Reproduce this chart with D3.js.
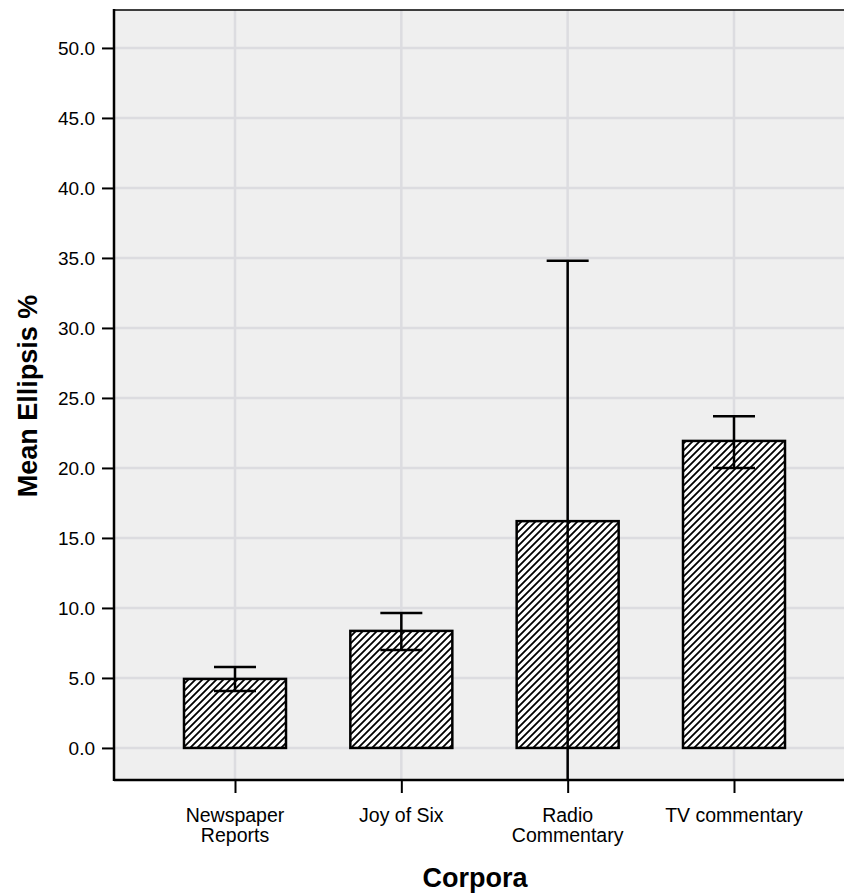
<!DOCTYPE html>
<html><head><meta charset="utf-8">
<script src="https://cdn.jsdelivr.net/npm/d3@7"></script>
<style>body{margin:0;background:#fff;} text{font-family:"Liberation Sans",Arial,sans-serif;}</style>
</head><body>
<svg id="chart" width="844" height="893"></svg>
<script>
const categories = [["Newspaper","Reports"],["Joy of Six"],["Radio","Commentary"],["TV commentary"]];
const means = [4.93, 8.36, 16.2, 21.93];
const errHigh = [5.79, 9.64, 34.8, 23.7];
const errLow = [4.07, 7.0, -2.4, 20.0];
const yTicks = [0,5,10,15,20,25,30,35,40,45,50];

const svg = d3.select("#chart");
const L = 114, R = 844, T = 10, B = 780;
const keys = categories.map(c => c.join(" "));
const x = d3.scalePoint().domain(keys).range([235, 734]);
const y = d3.scaleLinear().domain([-2.29, 52.71]).range([B, T]);
const barW = 102;

const defs = svg.append("defs");
const P = 7;
const pat = defs.append("pattern").attr("id","hatch").attr("patternUnits","userSpaceOnUse")
  .attr("width",P).attr("height",P);
pat.append("rect").attr("width",P).attr("height",P).attr("fill","#fff");
pat.append("path").attr("d",`M0,${P} L${P},0 M-1,1 L1,-1 M${P-1},${P+1} L${P+1},${P-1}`)
  .attr("stroke","#000").attr("stroke-width",1.8);
defs.append("clipPath").attr("id","clip").append("rect").attr("x",L).attr("y",T).attr("width",R-L).attr("height",B-T);

svg.append("rect").attr("x",L).attr("y",T).attr("width",R-L).attr("height",B-T).attr("fill","#efefef");

// grid
svg.append("g").selectAll("line.h").data(yTicks).join("line")
  .attr("x1",L).attr("x2",R).attr("y1",d=>y(d)).attr("y2",d=>y(d))
  .attr("stroke","#dcdce0").attr("stroke-width",2.5);
svg.append("g").selectAll("line.v").data(keys).join("line")
  .attr("x1",d=>x(d)).attr("x2",d=>x(d)).attr("y1",T).attr("y2",B)
  .attr("stroke","#dcdce0").attr("stroke-width",2.5);

// bars
svg.append("g").selectAll("rect").data(means).join("rect")
  .attr("x",(d,i)=>x(keys[i])-barW/2).attr("width",barW)
  .attr("y",d=>y(d)).attr("height",d=>y(0)-y(d))
  .attr("fill","url(#hatch)").attr("stroke","#000").attr("stroke-width",2.5);

// error bars
const eg = svg.append("g").attr("clip-path","url(#clip)");
keys.forEach((k,i)=>{
  const cx = x(k);
  eg.append("line").attr("x1",cx).attr("x2",cx).attr("y1",y(errHigh[i])).attr("y2",y(errLow[i])).attr("stroke","#000").attr("stroke-width",2.5);
  [errHigh[i], errLow[i]].forEach(v=>{
    eg.append("line").attr("x1",cx-21).attr("x2",cx+21).attr("y1",y(v)).attr("y2",y(v)).attr("stroke","#000").attr("stroke-width",2.5);
  });
});

// axes
const ya = svg.append("g").attr("transform",`translate(${L},0)`)
  .call(d3.axisLeft(y).tickValues(yTicks).tickFormat(d3.format(".1f")).tickSize(12).tickSizeOuter(0));
ya.select(".domain").remove();
ya.selectAll(".tick line").attr("stroke","#000").attr("stroke-width",2);
ya.selectAll(".tick text").attr("font-size",19).attr("fill","#000").attr("x",-19).attr("font-family","Liberation Sans, Arial, sans-serif");

const xa = svg.append("g").attr("transform",`translate(0,${B})`)
  .call(d3.axisBottom(x).tickSize(13).tickSizeOuter(0).tickFormat(""));
xa.select(".domain").remove();
xa.selectAll(".tick line").attr("stroke","#000").attr("stroke-width",2);

svg.append("line").attr("x1",L).attr("x2",L).attr("y1",T-1).attr("y2",B+1).attr("stroke","#000").attr("stroke-width",2.5);
svg.append("line").attr("x1",L).attr("x2",R).attr("y1",B).attr("y2",B).attr("stroke","#000").attr("stroke-width",2.5);
svg.append("line").attr("x1",L).attr("x2",R).attr("y1",T).attr("y2",T).attr("stroke","#000").attr("stroke-width",1.5);

// category labels
const cl = svg.append("g");
categories.forEach((c,i)=>{
  const t = cl.append("text").attr("text-anchor","middle").attr("font-size",19.5).attr("fill","#000");
  c.forEach((s,j)=>t.append("tspan").attr("x",x(keys[i])).attr("y",822+j*20).text(s));
});

svg.append("text").attr("x",475).attr("y",887).attr("text-anchor","middle")
  .attr("font-size",27).attr("font-weight","bold").text("Corpora");
svg.append("text").attr("transform","translate(37,396) rotate(-90)").attr("text-anchor","middle")
  .attr("font-size",27).attr("font-weight","bold").text("Mean Ellipsis %");
</script>
</body></html>
